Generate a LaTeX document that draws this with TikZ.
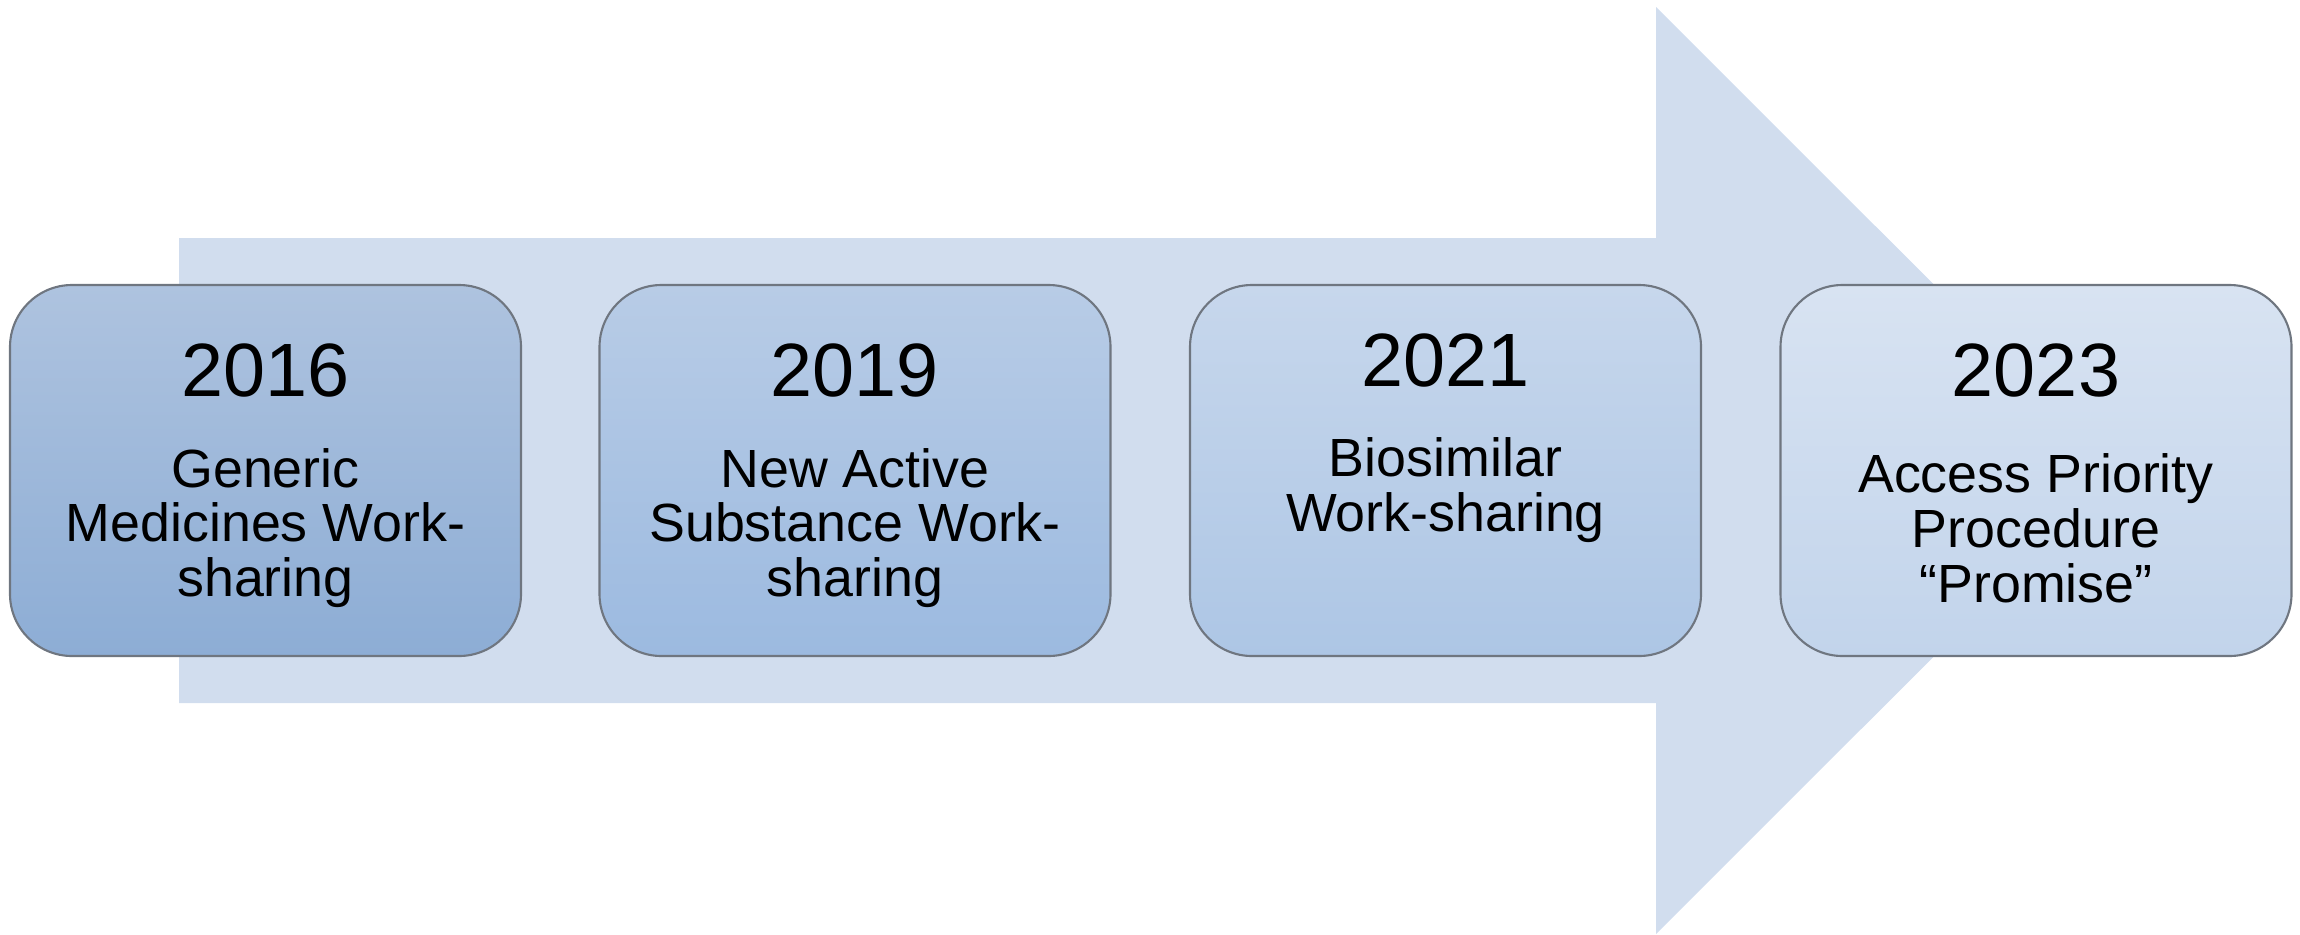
\documentclass[tikz,border=0pt]{standalone}
\usepackage{fontspec}
\setmainfont{Liberation Sans}
\definecolor{arrowblue}{HTML}{D1DDEE}
\definecolor{boxline}{HTML}{6F7680}
\definecolor{topA}{HTML}{AEC3DF}\definecolor{botA}{HTML}{8DADD5}
\definecolor{topB}{HTML}{B8CCE6}\definecolor{botB}{HTML}{9CBAE0}
\definecolor{topC}{HTML}{C7D7EC}\definecolor{botC}{HTML}{ADC6E5}
\definecolor{topD}{HTML}{D8E3F2}\definecolor{botD}{HTML}{C2D4EB}

\begin{document}
\begin{tikzpicture}[
    stage/.style={draw=boxline,line width=0.6pt,rounded corners=0.62cm,
      minimum width=5.11cm,minimum height=3.71cm,inner sep=0pt},
    year/.style={font=\fontsize{21.5}{24}\selectfont},
    what/.style={font=\fontsize{15.3}{15.6}\selectfont,align=center}]
    \useasboundingbox (0,0) rectangle (23,9.34);
    %\draw (0,0) grid (23,9);
      % big arrow
      \path[fill=arrowblue] (1.79,6.96) -- (16.56,6.96) -- (16.56,9.27)
        -- (21.2,4.635) -- (16.56,0) -- (16.56,2.31) -- (1.79,2.31) -- cycle;
      % stages
      \node[stage,top color=topA,bottom color=botA] (S16) at (2.655,4.635) {};
      \node[stage,top color=topB,bottom color=botB] (S19) at (8.55,4.635) {};
      \node[stage,top color=topC,bottom color=botC] (S21) at (14.455,4.635) {};
      \node[stage,top color=topD,bottom color=botD] (S23) at (20.36,4.635) {};
      % years
      \node[year] (Y16) at (2.655,5.64) {2016};
      \node[year] (Y19) at (8.55,5.64) {2019};
      \node[year] (Y21) at (14.455,5.74) {2021};
      \node[year] (Y23) at (20.36,5.64) {2023};
      % texts
      \node[what] (T16) at (2.655,4.06) {Generic\\Medicines Work-\\sharing};
      \node[what] (T19) at (8.55,4.06) {New Active\\Substance Work-\\sharing};
      \node[what] (T21) at (14.455,4.44) {Biosimilar\\Work-sharing};
      \node[what] (T23) at (20.36,4.06) {Access Priority\\Procedure\\“Promise”};
\end{tikzpicture}
\end{document}
